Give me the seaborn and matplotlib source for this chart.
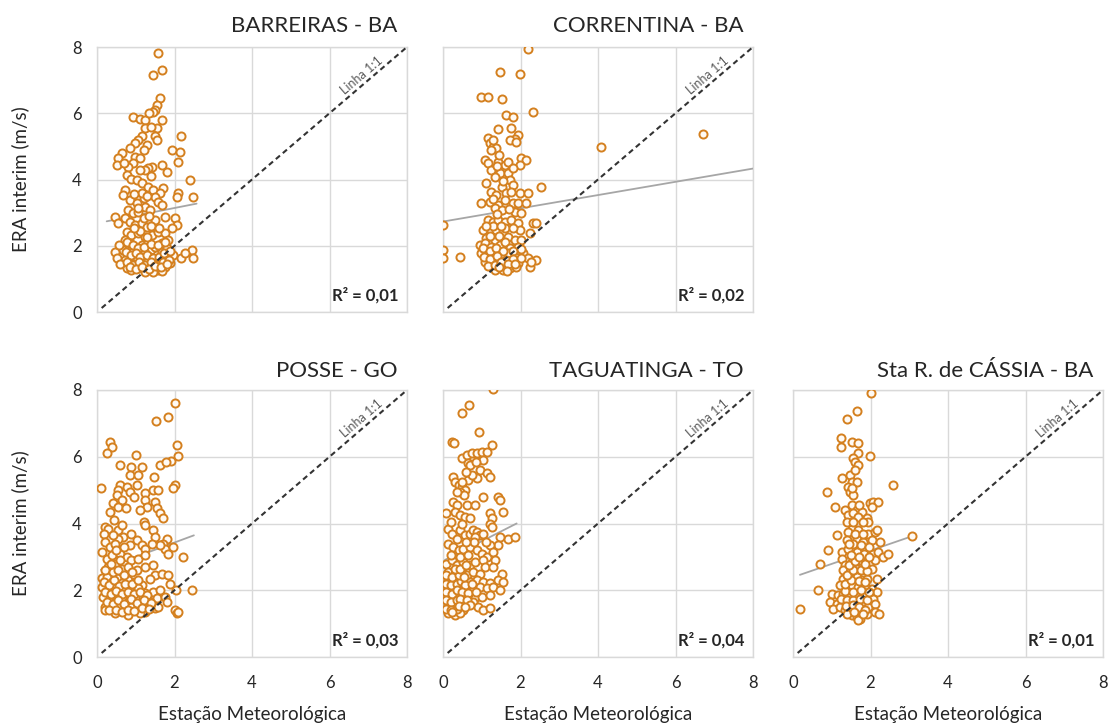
import numpy as np
import pandas as pd
import matplotlib
matplotlib.use("Agg")
import matplotlib.pyplot as plt
import seaborn as sns

# ---------------------------------------------------------------
# Wind speed: station (x) vs ERA-Interim (y), m/s
# ---------------------------------------------------------------
stations = ["BARREIRAS - BA", "CORRENTINA - BA", "POSSE - GO",
            "TAGUATINGA - TO", "Sta R. de CÁSSIA - BA"]
r2_labels = ["0,01", "0,02", "0,03", "0,04", "0,01"]

# linear trend of each station: slope, intercept and x extent
trend_slope = [0.23, 0.20, 0.43, 0.59, 0.40]
trend_intercept = [2.68, 2.73, 2.57, 2.88, 2.39]
trend_x0 = [0.25, 0.00, 0.10, 0.05, 0.18]
trend_x1 = [2.57, 8.00, 2.50, 1.90, 3.06]

ticks = [0, 2, 4, 6, 8]

barreiras_xy = np.array([
    (1.58, 7.83), (1.67, 7.30), (1.45, 7.15), (1.63, 6.45), (1.54, 6.25), (1.50, 6.10), (1.45, 6.05),
    (0.94, 5.90), (1.11, 5.84), (1.24, 5.80), (1.67, 5.80), (1.54, 5.54), (1.50, 5.30), (2.18, 5.30),
    (1.24, 5.55), (1.15, 5.30), (1.07, 5.20), (0.98, 5.10), (0.85, 4.94), (1.28, 5.04), (1.54, 5.20),
    (0.64, 4.79), (0.55, 4.64), (0.51, 4.44), (0.98, 4.69), (1.11, 4.64), (0.94, 4.49), (0.81, 4.39),
    (1.93, 4.89), (2.14, 4.84), (2.10, 4.54), (1.41, 4.39), (1.32, 4.34), (1.24, 4.29), (1.67, 4.44),
    (1.80, 4.24), (0.77, 4.13), (0.89, 4.03), (1.02, 3.98), (1.15, 3.88), (2.40, 3.98), (1.32, 3.78),
    (1.45, 3.68), (1.71, 3.73), (1.63, 3.58), (0.72, 3.68), (0.68, 3.53), (2.10, 3.58), (2.06, 3.48),
    (2.49, 3.48), (0.85, 3.38), (1.02, 3.28), (1.20, 3.43), (1.50, 3.48), (1.58, 3.33), (1.67, 3.23),
    (0.81, 3.08), (0.94, 2.98), (1.07, 3.03), (1.24, 3.18), (1.37, 3.08), (0.46, 2.88), (0.55, 2.68),
    (0.72, 2.83), (0.85, 2.73), (0.98, 2.63), (1.15, 2.68), (1.28, 2.58), (1.50, 2.78), (1.75, 2.88),
    (2.01, 2.83), (2.06, 2.63), (1.93, 2.53), (0.77, 2.42), (0.89, 2.32), (1.07, 2.37), (1.24, 2.27),
    (1.41, 2.32), (1.58, 2.42), (1.75, 2.37), (0.72, 2.17), (0.85, 2.07), (0.98, 1.97), (1.15, 2.02),
    (1.32, 2.12), (1.50, 1.97), (1.67, 2.07), (1.84, 2.17), (0.68, 1.87), (0.81, 1.77), (0.94, 1.82),
    (1.07, 1.72), (1.24, 1.77), (1.37, 1.67), (1.54, 1.72), (1.67, 1.82), (1.80, 1.92), (0.72, 1.57),
    (0.85, 1.52), (0.98, 1.47), (1.15, 1.57), (1.32, 1.47), (1.50, 1.52), (1.63, 1.57), (1.80, 1.62),
    (1.97, 1.72), (0.77, 1.32), (0.89, 1.27), (1.07, 1.32), (1.24, 1.27), (1.41, 1.37), (1.58, 1.27),
    (1.75, 1.37), (1.88, 1.47), (1.02, 1.62), (1.20, 1.42), (1.32, 1.60), (1.50, 1.30), (1.67, 1.25),
    (1.24, 1.22), (1.45, 1.20), (1.60, 1.40), (2.18, 1.62), (2.44, 1.87), (2.49, 1.62), (2.27, 1.77),
    (0.46, 1.82), (0.52, 1.62), (0.58, 2.02), (0.60, 1.45),
    (0.78, 2.12), (0.92, 2.02), (1.05, 1.92), (1.22, 1.97), (1.40, 2.05), (1.58, 2.02), (1.75, 2.12),
    (0.75, 1.82), (0.88, 1.72), (1.00, 1.77), (1.12, 1.67), (1.30, 1.72), (1.45, 1.62), (1.60, 1.67),
    (1.72, 1.77), (1.88, 1.85), (0.78, 1.52), (0.92, 1.42), (1.08, 1.52), (1.25, 1.42), (1.40, 1.52),
    (1.55, 1.42), (1.70, 1.52), (1.85, 1.57), (0.85, 1.35), (1.00, 1.30), (1.15, 1.35), (1.35, 1.30),
    (1.50, 1.40), (1.65, 1.35), (1.80, 1.45), (1.30, 2.25), (1.10, 2.45), (0.95, 2.55), (1.40, 2.60),
    (1.60, 2.55), (1.20, 2.85), (1.35, 2.90), (1.05, 3.15), (1.15, 3.60), (1.30, 3.50), (0.95, 3.55),
    (1.40, 4.10), (1.10, 4.30), (0.70, 4.50), (1.20, 4.90), (1.40, 5.60), (1.35, 6.00),
])

correntina_xy = np.array([
    (2.19, 7.93), (1.46, 7.25), (1.98, 7.20), (0.99, 6.48), (1.16, 6.50), (1.51, 6.42), (2.32, 6.05),
    (1.63, 5.95), (1.81, 5.90), (1.42, 5.51), (1.76, 5.54), (1.94, 5.34), (1.85, 5.21), (1.72, 5.19),
    (1.89, 5.14), (1.16, 5.24), (1.20, 5.09), (1.29, 4.99), (1.38, 4.94), (1.25, 4.89), (1.08, 4.59),
    (1.16, 4.49), (1.42, 4.54), (1.59, 4.44), (1.68, 4.54), (2.02, 4.64), (2.15, 4.59), (1.98, 4.44),
    (1.25, 4.29), (1.46, 4.19), (1.33, 4.09), (1.68, 4.19), (1.12, 3.88), (1.51, 3.78), (1.72, 3.98),
    (1.81, 3.83), (2.54, 3.78), (1.25, 3.63), (1.38, 3.53), (1.63, 3.58), (1.76, 3.63), (1.98, 3.58),
    (2.19, 3.58), (0.99, 3.28), (1.20, 3.33), (1.42, 3.23), (1.59, 3.38), (1.81, 3.28), (1.94, 3.28),
    (2.15, 3.28), (1.33, 3.13), (1.51, 3.08), (1.85, 3.03), (2.02, 2.98), (1.16, 2.78), (1.29, 2.73),
    (1.42, 2.78), (1.59, 2.73), (1.76, 2.78), (1.94, 2.68), (1.03, 2.47), (1.25, 2.42), (1.38, 2.47),
    (1.55, 2.42), (1.98, 2.47), (2.32, 2.68), (2.41, 2.68), (1.12, 2.22), (1.33, 2.17), (1.68, 2.27),
    (1.85, 2.17), (2.02, 2.17), (2.24, 2.37), (0.95, 2.02), (1.08, 2.07), (1.25, 1.97), (1.46, 2.02),
    (1.59, 2.12), (1.72, 1.92), (1.94, 1.97), (0.99, 1.77), (1.16, 1.72), (1.33, 1.77), (1.51, 1.67),
    (1.68, 1.77), (1.85, 1.67), (2.06, 1.77), (1.08, 1.52), (1.25, 1.47), (1.42, 1.57), (1.59, 1.42),
    (1.76, 1.52), (1.94, 1.47), (2.19, 1.62), (2.41, 1.57), (1.33, 1.27), (1.55, 1.27), (1.72, 1.32),
    (1.89, 1.37), (2.24, 1.37), (2.28, 1.52), (0.00, 2.63), (0.00, 1.87), (0.00, 1.62), (0.43, 1.67),
    (4.09, 4.99), (6.72, 5.38),
    (1.02, 1.92), (1.20, 1.85), (1.38, 1.92), (1.55, 1.85), (1.80, 1.85), (2.00, 1.90), (1.05, 1.65),
    (1.22, 1.60), (1.40, 1.68), (1.62, 1.58), (1.80, 1.60), (2.00, 1.62), (1.15, 1.40), (1.35, 1.42),
    (1.50, 1.50), (1.68, 1.45), (1.85, 1.45), (1.45, 1.35), (1.65, 1.25), (1.20, 2.30), (1.45, 2.30),
    (1.60, 2.55), (1.30, 2.60), (1.50, 2.60), (1.80, 2.55), (1.10, 2.60), (1.40, 2.95), (1.70, 3.10),
    (1.30, 3.40), (1.55, 3.95), (1.40, 4.40), (1.80, 4.35), (1.30, 5.20), (1.45, 4.75),
])

posse_xy = np.array([
    (2.00, 7.60), (1.51, 7.08), (1.84, 7.18), (0.34, 6.43), (0.38, 6.30), (0.25, 6.10), (1.01, 6.05),
    (2.06, 6.35), (2.08, 6.03), (1.91, 5.87), (0.59, 5.75), (0.89, 5.70), (1.15, 5.70), (0.85, 5.45),
    (1.07, 5.45), (1.63, 5.75), (1.78, 5.83), (1.47, 5.40), (0.10, 5.05), (0.59, 5.15), (0.55, 5.00),
    (0.77, 5.10), (0.85, 4.95), (1.02, 5.15), (1.24, 4.90), (1.45, 5.00), (1.58, 5.00), (2.01, 5.15),
    (1.97, 5.05), (0.51, 4.85), (0.64, 4.70), (0.42, 4.60), (0.55, 4.50), (1.24, 4.70), (1.28, 4.50),
    (1.50, 4.65), (1.54, 4.45), (1.63, 4.30), (1.71, 4.15), (0.34, 4.35), (1.20, 4.05), (1.24, 3.95),
    (1.45, 3.80), (0.21, 3.90), (0.29, 3.85), (0.17, 3.70), (0.55, 3.80), (0.68, 3.60), (0.89, 3.70),
    (0.55, 3.55), (1.50, 3.60), (1.80, 3.55), (1.71, 3.40), (1.75, 3.25), (1.63, 3.35), (0.21, 3.45),
    (0.34, 3.30), (0.46, 3.40), (0.85, 3.35), (1.02, 3.50), (1.15, 3.35), (1.24, 3.25), (1.41, 3.40),
    (1.97, 3.30), (2.23, 3.00), (1.84, 3.10), (0.12, 3.15), (0.25, 2.95), (0.38, 3.05), (0.59, 3.10),
    (0.77, 3.00), (0.89, 2.90), (1.07, 2.95), (1.24, 3.05), (0.29, 2.70), (0.46, 2.80), (0.64, 2.65),
    (0.81, 2.70), (1.02, 2.60), (1.24, 2.70), (1.45, 2.75), (1.50, 2.45), (1.67, 2.50), (1.84, 2.45),
    (1.37, 2.35), (2.44, 2.00), (2.05, 2.00), (1.88, 2.20), (0.12, 2.36), (0.25, 2.41), (0.38, 2.26),
    (0.51, 2.36), (0.64, 2.21), (0.81, 2.31), (0.98, 2.26), (1.15, 2.16), (0.12, 2.11), (0.29, 2.01),
    (0.42, 2.06), (0.55, 1.91), (0.72, 2.01), (0.89, 1.96), (1.07, 2.06), (1.24, 1.91), (1.45, 1.96),
    (1.63, 2.01), (0.16, 1.81), (0.34, 1.76), (0.46, 1.66), (0.64, 1.76), (0.81, 1.66), (0.98, 1.76),
    (1.15, 1.61), (1.32, 1.71), (1.54, 1.76), (1.75, 1.81), (0.21, 1.51), (0.38, 1.46), (0.55, 1.51),
    (0.72, 1.41), (0.89, 1.51), (1.07, 1.46), (1.24, 1.36), (1.50, 1.46), (1.58, 1.51), (1.80, 1.66),
    (0.21, 1.41), (0.46, 1.31), (0.81, 1.26), (1.11, 1.31), (2.01, 1.41), (2.06, 1.31), (2.10, 1.36),
    (0.18, 2.25), (0.32, 2.15), (0.45, 2.30), (0.58, 2.12), (0.72, 2.20), (0.90, 2.18), (1.05, 2.30),
    (0.20, 1.95), (0.35, 1.90), (0.50, 1.98), (0.65, 1.88), (0.80, 1.95), (0.95, 1.88), (1.12, 1.95),
    (1.30, 1.85), (0.25, 1.65), (0.40, 1.58), (0.55, 1.70), (0.70, 1.60), (0.88, 1.75), (1.02, 1.62),
    (1.20, 1.72), (1.40, 1.62), (0.30, 1.40), (0.50, 1.40), (0.65, 1.35), (0.80, 1.42), (0.95, 1.38),
    (1.15, 1.48), (1.35, 1.45), (0.20, 2.60), (0.40, 2.55), (0.55, 2.60), (0.70, 2.45), (0.90, 2.55),
    (0.35, 2.80), (0.60, 2.90), (0.50, 3.20), (0.70, 3.30), (0.40, 3.65), (0.65, 3.95), (0.45, 4.10),
    (0.75, 4.45), (0.95, 4.80), (1.10, 4.40),
])

taguatinga_xy = np.array([
    (1.30, 8.02), (0.68, 7.55), (0.48, 7.30), (0.93, 6.73), (0.22, 6.45), (0.28, 6.40), (1.26, 6.35),
    (0.48, 5.95), (0.61, 6.05), (0.74, 6.10), (0.87, 6.10), (1.00, 6.15), (1.13, 6.15), (1.04, 5.90),
    (0.65, 5.80), (0.70, 5.75), (0.96, 5.60), (1.13, 5.50), (1.21, 5.40), (0.87, 5.35), (0.65, 5.30),
    (0.74, 5.45), (0.27, 5.40), (0.31, 5.25), (0.40, 5.15), (0.48, 5.10), (0.57, 5.00), (0.44, 4.95),
    (0.53, 4.85), (1.04, 4.80), (1.43, 4.80), (1.47, 4.70), (0.27, 4.65), (0.35, 4.55), (0.61, 4.55),
    (0.83, 4.55), (0.09, 4.30), (0.31, 4.35), (0.44, 4.25), (0.57, 4.20), (0.70, 4.15), (1.21, 4.30),
    (1.26, 4.15), (1.56, 4.35), (1.21, 4.00), (1.26, 3.90), (0.14, 3.85), (0.22, 3.70), (0.44, 3.80),
    (0.57, 3.65), (0.70, 3.70), (0.78, 3.80), (0.87, 3.75), (0.96, 3.65), (1.04, 3.70), (0.83, 3.60),
    (1.69, 3.55), (1.86, 3.60), (1.47, 3.60), (1.43, 3.35), (0.14, 3.40), (0.27, 3.30), (0.40, 3.20),
    (0.52, 3.25), (0.70, 3.30), (0.87, 3.20), (1.00, 3.10), (1.13, 3.00), (1.21, 3.35), (0.09, 2.80),
    (0.22, 2.90), (0.35, 2.75), (0.52, 2.85), (0.70, 2.75), (0.83, 2.85), (1.04, 2.90), (1.30, 3.15),
    (1.34, 2.90), (1.08, 2.70), (0.14, 2.55), (0.31, 2.50), (0.48, 2.55), (0.61, 2.45), (0.78, 2.55),
    (0.96, 2.50), (1.30, 2.70), (1.51, 2.50), (0.14, 2.31), (0.27, 2.26), (0.40, 2.31), (0.52, 2.21),
    (0.70, 2.26), (0.87, 2.31), (1.04, 2.26), (1.21, 2.21), (1.43, 2.31), (1.56, 2.26), (0.14, 2.06),
    (0.31, 2.01), (0.44, 2.11), (0.61, 2.06), (0.78, 2.01), (0.96, 2.11), (1.13, 2.06), (1.30, 2.11),
    (1.47, 2.01), (0.14, 1.81), (0.27, 1.76), (0.40, 1.86), (0.52, 1.71), (0.83, 1.76), (1.00, 1.81),
    (1.21, 1.86), (0.14, 1.56), (0.27, 1.51), (0.44, 1.61), (0.52, 1.41), (0.78, 1.66), (0.91, 1.51),
    (1.04, 1.41), (1.21, 1.46), (0.14, 1.31), (0.31, 1.26), (0.44, 1.31),
    (0.08, 2.20), (0.20, 2.15), (0.35, 2.20), (0.46, 2.28), (0.58, 2.15), (0.75, 2.18), (0.08, 1.95),
    (0.22, 1.90), (0.35, 2.00), (0.48, 1.95), (0.65, 1.92), (0.85, 1.95), (0.08, 1.70), (0.20, 1.65),
    (0.35, 1.72), (0.45, 1.75), (0.62, 1.72), (0.70, 1.55), (0.08, 1.45), (0.20, 1.40), (0.35, 1.45),
    (0.40, 1.52), (0.58, 1.50), (0.22, 1.35), (0.08, 2.45), (0.22, 2.40), (0.40, 2.45), (0.55, 2.40),
    (0.30, 2.65), (0.45, 2.65), (0.60, 2.75), (0.20, 3.05), (0.45, 3.00), (0.65, 3.05), (0.80, 3.45),
    (0.35, 3.55), (0.60, 3.45), (1.10, 3.45), (0.50, 4.00), (0.20, 4.05), (0.35, 4.95), (0.50, 5.25),
    (0.60, 5.55), (0.85, 5.85),
])

cassia_xy = np.array([
    (2.01, 7.90), (1.64, 7.37), (1.40, 7.13), (1.23, 6.55), (1.23, 6.30), (1.51, 6.45), (1.69, 6.40),
    (1.69, 6.10), (1.56, 5.95), (1.60, 5.85), (1.69, 5.75), (1.99, 6.02), (1.26, 5.35), (1.47, 5.45),
    (1.51, 5.25), (1.64, 5.25), (1.43, 5.10), (1.47, 4.95), (1.56, 4.85), (1.51, 5.05), (2.57, 5.15),
    (0.87, 4.95), (1.08, 4.50), (1.34, 4.40), (1.51, 4.55), (1.64, 4.40), (1.77, 4.35), (1.99, 4.60),
    (2.07, 4.65), (2.20, 4.63), (2.03, 4.50), (1.43, 4.25), (1.56, 4.30), (1.69, 4.20), (1.90, 4.15),
    (1.94, 4.05), (1.39, 4.05), (1.51, 3.85), (1.13, 3.65), (1.43, 3.75), (1.69, 3.80), (1.94, 3.70),
    (2.12, 3.75), (2.16, 3.80), (3.06, 3.63), (1.39, 3.50), (1.64, 3.55), (1.81, 3.45), (2.03, 3.50),
    (2.25, 3.45), (1.56, 3.40), (0.91, 3.20), (1.26, 3.15), (1.43, 3.25), (1.64, 3.15), (1.83, 3.10),
    (2.07, 3.10), (2.20, 3.15), (2.33, 3.00), (2.46, 3.10), (0.70, 2.80), (1.26, 2.95), (1.34, 2.75),
    (1.51, 2.85), (1.73, 2.90), (1.99, 2.85), (2.12, 2.90), (1.30, 2.60), (1.47, 2.55), (1.64, 2.65),
    (1.81, 2.50), (2.03, 2.65), (1.64, 2.40), (1.30, 2.35), (1.43, 2.25), (1.60, 2.20), (1.77, 2.30),
    (1.90, 2.35), (2.16, 2.35), (1.21, 2.15), (1.39, 2.05), (1.51, 2.15), (1.69, 2.10), (1.86, 2.15),
    (2.03, 2.05), (2.16, 1.95), (0.65, 2.00), (1.00, 1.90), (1.17, 1.85), (1.30, 1.90), (1.47, 1.80),
    (1.64, 1.85), (1.81, 1.90), (1.99, 1.80), (2.07, 1.75), (0.96, 1.65), (1.13, 1.60), (1.30, 1.70),
    (1.47, 1.60), (1.64, 1.65), (1.77, 1.55), (1.94, 1.50), (2.12, 1.60), (1.04, 1.45), (1.21, 1.50),
    (1.34, 1.40), (1.51, 1.45), (1.73, 1.35), (1.90, 1.30), (2.12, 1.35), (2.22, 1.30), (1.51, 1.25),
    (1.64, 1.20), (1.73, 1.15), (1.69, 1.12), (0.18, 1.45),
    (1.25, 1.75), (1.40, 1.70), (1.55, 1.72), (1.72, 1.75), (1.90, 1.70), (1.38, 1.52), (1.55, 1.55),
    (1.70, 1.50), (1.85, 1.42), (1.40, 1.30), (1.58, 1.35), (1.80, 1.28), (1.35, 1.98), (1.55, 1.95),
    (1.75, 2.00), (1.95, 1.95), (1.35, 2.20), (1.50, 2.30), (1.70, 2.28), (1.85, 2.25), (1.40, 2.45),
    (1.55, 2.62), (1.75, 2.60), (1.90, 2.58), (1.45, 2.75), (1.60, 2.88), (1.85, 2.80), (1.50, 3.05),
    (1.70, 3.00), (1.95, 3.00), (1.45, 3.40), (1.75, 3.35), (1.95, 3.30), (1.60, 3.70), (1.80, 3.70),
    (1.55, 4.05), (1.80, 4.05), (1.70, 4.55), (1.60, 5.60),
])

station_points = [barreiras_xy, correntina_xy, posse_xy, taguatinga_xy, cassia_xy]

# ---------------------------------------------------------------
# Styling
# ---------------------------------------------------------------
sns.set_theme(style="white")
plt.rcParams["font.family"] = ["Lato", "DejaVu Sans"]

ORANGE = "#d4801f"
GRID = "#d9d9d9"
TEXT = "#262626"

W, H = 1112, 727
fig = plt.figure(figsize=(W / 100, H / 100), dpi=100)
fig.patch.set_facecolor("white")

# panel boxes in pixels: left, top, width, height
boxes = [(97, 47, 310, 265), (443, 47, 310, 265),
         (97, 390, 310, 267), (443, 390, 310, 267), (793, 390, 310, 267)]
title_offset = [11, 11, 9.5, 9.5, 9.5]

for i, (name, pts) in enumerate(zip(stations, station_points)):
    l, t, w, h = boxes[i]
    ax = fig.add_axes([l / W, 1 - (t + h) / H, w / W, h / H])
    df = pd.DataFrame({"estacao": pts[:, 0], "era": pts[:, 1]})

    # linear trend (beneath the markers)
    tx = np.array([trend_x0[i], trend_x1[i]])
    ty = trend_intercept[i] + trend_slope[i] * tx
    sns.lineplot(x=tx, y=ty, ax=ax, color="#a6a6a6", linewidth=1.3, zorder=3)

    # observations
    sns.scatterplot(data=df, x="estacao", y="era", ax=ax, s=34,
                    facecolors="#fffaf4", edgecolor=ORANGE, linewidth=1.4,
                    legend=False, zorder=4)

    # 1:1 reference line
    sns.lineplot(x=[0.12, 8], y=[0.12, 8], ax=ax, color="#333333",
                 linewidth=1.5, zorder=5)
    ax.lines[-1].set_dashes((2.6, 1.8))
    ax.text(6.82, 7.14, "Linha 1:1", rotation=45, transform_rotates_text=True,
            rotation_mode="anchor", ha="center", va="center",
            fontsize=9, color="#595959", zorder=6)

    ax.set_xlim(0, 8)
    ax.set_ylim(0, 8)
    ax.set_xticks(ticks)
    ax.set_yticks(ticks)
    ax.grid(True, color=GRID, linewidth=1)
    ax.set_axisbelow(True)
    for sp in ax.spines.values():
        sp.set_color(GRID)
        sp.set_linewidth(1)
    ax.tick_params(length=0, labelsize=12, labelcolor=TEXT)
    ax.tick_params(axis="y", pad=11)
    ax.tick_params(axis="x", pad=13)

    if i in (0, 2):
        ax.set_ylabel("ERA interim (m/s)", fontsize=13.5, color=TEXT, labelpad=31)
    else:
        ax.set_ylabel("")
        ax.set_yticklabels([])
    if i in (2, 3, 4):
        ax.set_xlabel("Estação Meteorológica", fontsize=13.5, color=TEXT, labelpad=11)
    else:
        ax.set_xlabel("")
        ax.set_xticklabels([])

    ax.annotate(name, xy=(1, 1), xycoords="axes fraction",
                xytext=(-7, title_offset[i]), textcoords="offset points",
                ha="right", va="baseline", fontsize=16, color=TEXT)
    ax.text(0.974, 0.064, f"R² = {r2_labels[i]}", transform=ax.transAxes,
            ha="right", va="center", fontsize=12, fontweight="bold", color=TEXT)

fig.savefig("out.png", dpi=100, facecolor="white")
